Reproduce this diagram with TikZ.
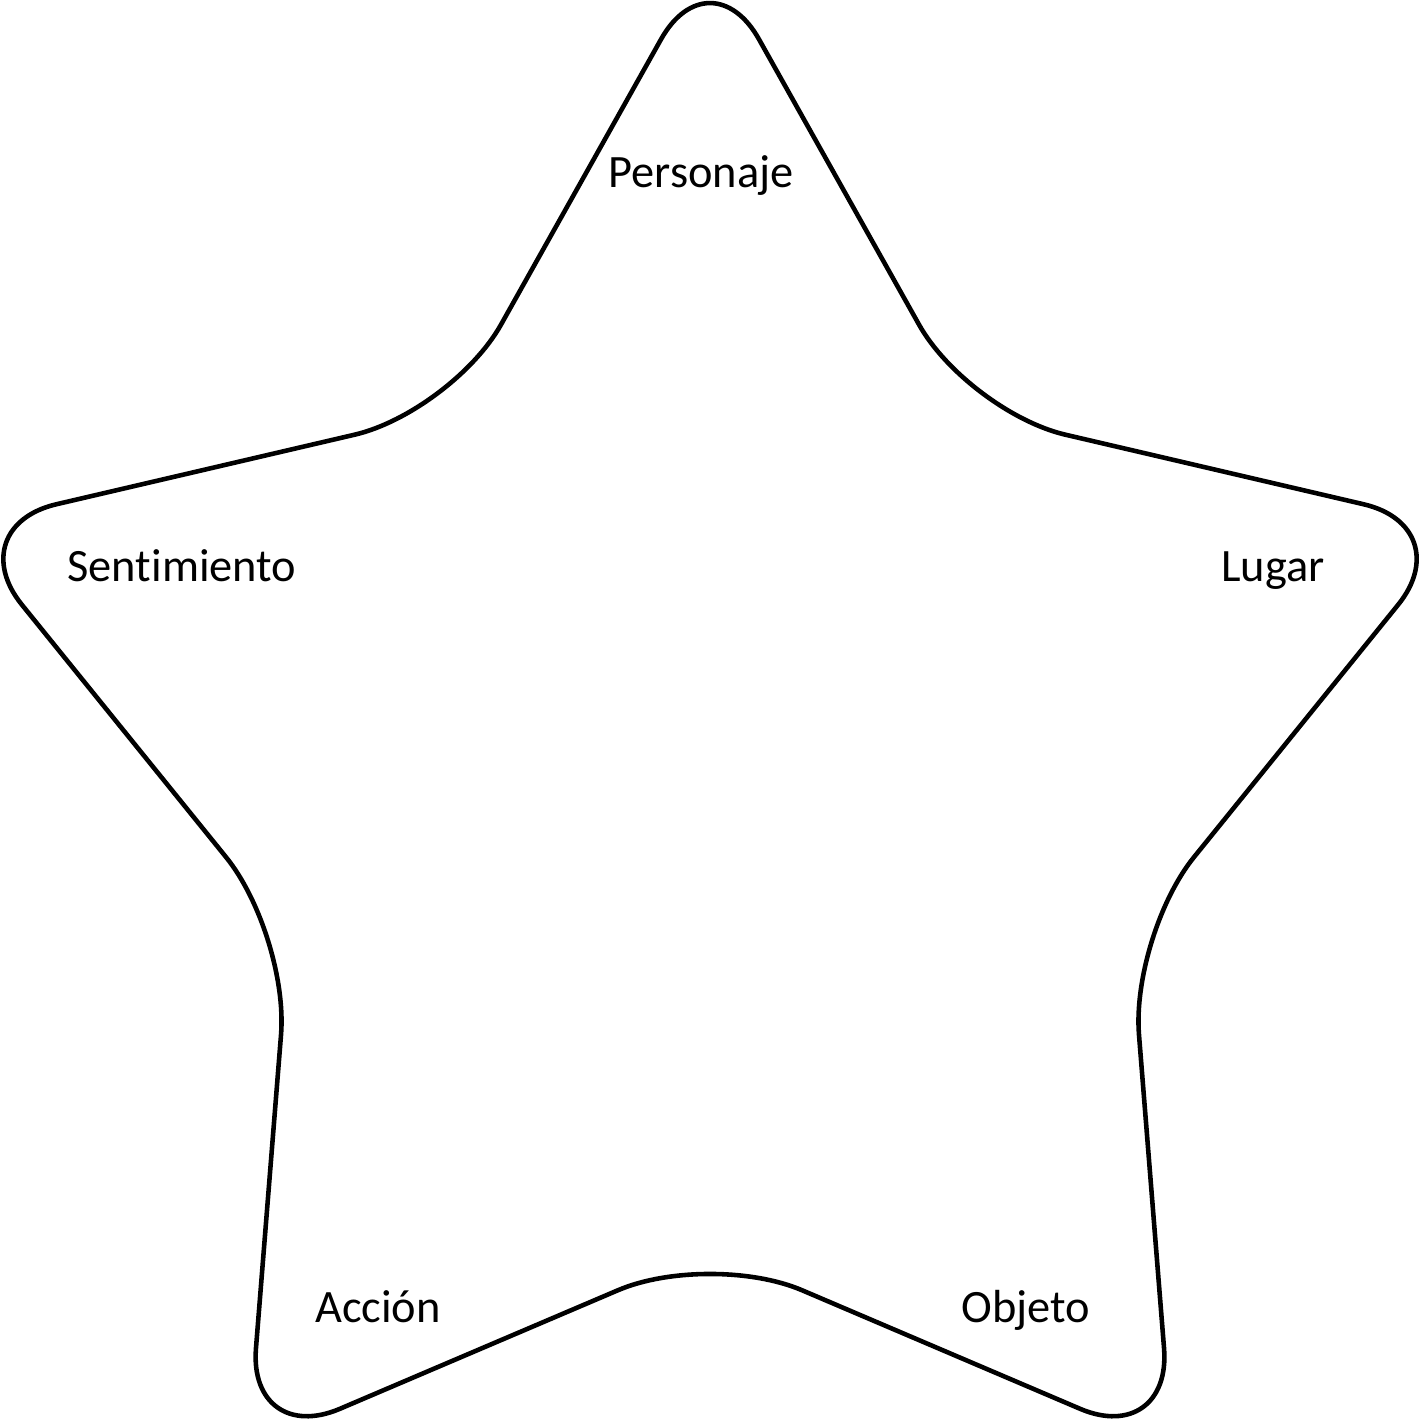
\documentclass[tikz,border=0pt]{standalone}
\usepackage{fontspec}
\setmainfont[Ligatures={NoCommon}]{Carlito}
\usetikzlibrary{calc}
\tikzset{
  % Star outline
  StarLine/.style={draw=black,line width=1.3pt,rounded corners=1cm,
                   line join=round},
  % Point labels
  Lbl/.style={anchor=base,inner sep=0pt,
              font=\fontsize{13.2}{15}\selectfont},
}
\begin{document}
\begin{tikzpicture}
        \useasboundingbox (0,0) rectangle (14.18,14.24);
        % Star corners (tips and inner bends)
        \coordinate (tp)  at ( 7.10,14.72);
        \coordinate (iur) at ( 9.68,10.12);
        \coordinate (rt)  at (14.61, 8.97);
        \coordinate (ilr) at (11.31, 4.89);
        \coordinate (brt) at (11.72,-0.24);
        \coordinate (ib)  at ( 7.10, 1.73);
        \coordinate (blt) at ( 2.48,-0.24);
        \coordinate (ill) at ( 2.89, 4.89);
        \coordinate (lt)  at (-0.41, 8.97);
        \coordinate (iul) at ( 4.52,10.12);
        \coordinate (st)  at ($(tp)!0.5!(iur)$);
        % Outline
        \draw[StarLine] (st) -- (iur) -- (rt) -- (ilr) -- (brt) -- (ib)
              -- (blt) -- (ill) -- (lt) -- (iul) -- (tp) -- cycle;
        % Labels
        \node[Lbl] at (7.01,12.36) (pers) {Personaje};
        \node[Lbl] at (1.82, 8.42) (sent) {Sentimiento};
        \node[Lbl] at (12.73,8.42) (lug)  {Lugar};
        \node[Lbl] at (3.78, 1.01) (acc)  {Acción};
        \node[Lbl] at (10.26,1.01) (obj)  {Objeto};
\end{tikzpicture}
\end{document}
